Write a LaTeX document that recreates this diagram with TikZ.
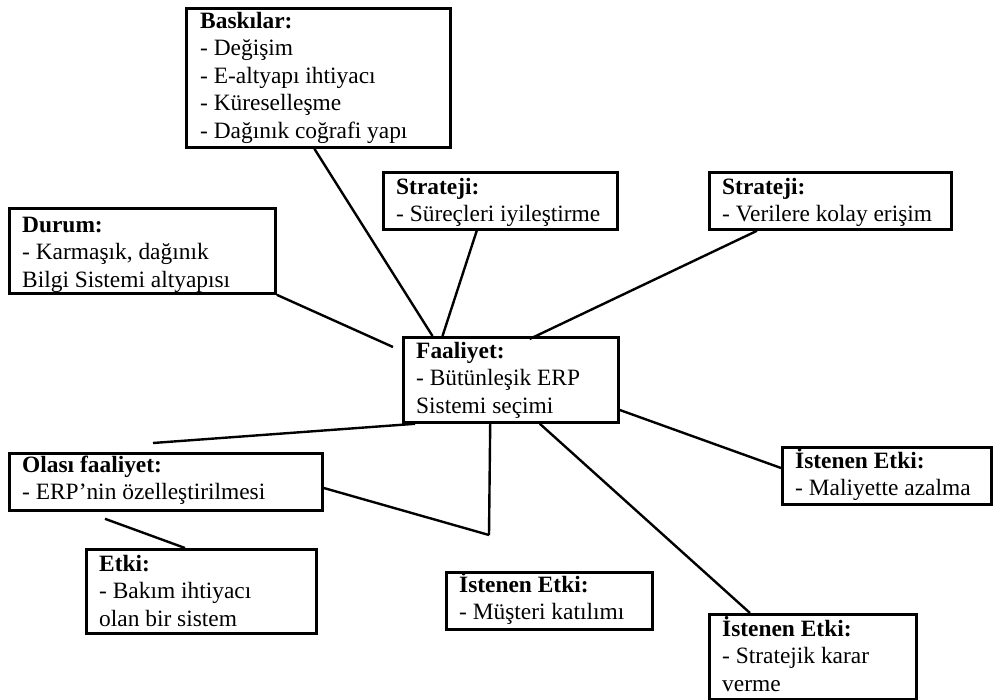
\documentclass[tikz,border=0pt]{standalone}
\usepackage{fontspec}
\setmainfont{Liberation Serif}
\usetikzlibrary{calc}

\tikzset{
  frame/.style={draw, line width=2.8pt, anchor=north west, inner sep=0pt},
  txt/.style={anchor=north west, inner sep=0pt, align=left,
    font=\fontsize{23.4pt}{27.5pt}\selectfont},
  link/.style={line width=2.4pt},
}
% first-line strut: distance from the box top to the first baseline
\newcommand{\firstline}[1]{\rule{0pt}{#1pt}}

\begin{document}
\begin{tikzpicture}[x=1pt,y=-1pt]
\useasboundingbox (0,0) rectangle (1002,700);

% frames
\node[frame, minimum width=264pt, minimum height=139pt] (bask)  at (185,7) {};
\node[frame, minimum width=234pt, minimum height=57pt]  (str1)  at (382,171) {};
\node[frame, minimum width=242pt, minimum height=57pt]  (str2)  at (708,171) {};
\node[frame, minimum width=266pt, minimum height=85pt]  (durum) at (8,207) {};
\node[frame, minimum width=215pt, minimum height=85pt]  (faal)  at (402,336) {};
\node[frame, minimum width=313pt, minimum height=57pt]  (olasi) at (8,452) {};
\node[frame, minimum width=209pt, minimum height=57pt]  (ist1)  at (781,446) {};
\node[frame, minimum width=230pt, minimum height=84pt]  (etki)  at (85,548) {};
\node[frame, minimum width=206pt, minimum height=57pt]  (ist2)  at (445,571) {};
\node[frame, minimum width=207pt, minimum height=85pt]  (ist3)  at (708,613) {};

% texts
\node[txt] (bask-t) at ($(bask.north west)+(15,0)$)
  {\firstline{21}\textbf{Baskılar:}\\- Değişim\\- E-altyapı ihtiyacı\\- Küreselleşme\\- Dağınık coğrafi yapı};
\node[txt] (str1-t) at ($(str1.north west)+(14,0)$)
  {\firstline{23}\textbf{Strateji:}\\- Süreçleri iyileştirme};
\node[txt] (str2-t) at ($(str2.north west)+(14,0)$)
  {\firstline{23}\textbf{Strateji:}\\- Verilere kolay erişim};
\node[txt] (durum-t) at ($(durum.north west)+(14,0)$)
  {\firstline{25}\textbf{Durum:}\\- Karmaşık, dağınık\\Bilgi Sistemi altyapısı};
\node[txt] (faal-t) at ($(faal.north west)+(14,0)$)
  {\firstline{22}\textbf{Faaliyet:}\\- Bütünleşik ERP\\Sistemi seçimi};
\node[txt] (olasi-t) at ($(olasi.north west)+(14,0)$)
  {\firstline{20}\textbf{Olası faaliyet:}\\- ERP’nin özelleştirilmesi};
\node[txt] (ist1-t) at ($(ist1.north west)+(14,0)$)
  {\firstline{22}\textbf{İstenen Etki:}\\- Maliyette azalma};
\node[txt] (etki-t) at ($(etki.north west)+(14,0)$)
  {\firstline{23}\textbf{Etki:}\\- Bakım ihtiyacı\\olan bir sistem};
\node[txt] (ist2-t) at ($(ist2.north west)+(14,0)$)
  {\firstline{21}\textbf{İstenen Etki:}\\- Müşteri katılımı};
\node[txt] (ist3-t) at ($(ist3.north west)+(14,0)$)
  {\firstline{23}\textbf{İstenen Etki:}\\- Stratejik karar\\verme};

% meeting point of the two lines above the customer-participation box
\coordinate (meet) at ($(ist2.north west)+(44,-36)$);

% connectors
\draw[link] ($(bask.south west)!0.485!(bask.south east)$) -- ($(faal.north west)!0.14!(faal.north east)$);
\draw[link] ($(str1.south west)!0.40!(str1.south east)$) -- ($(faal.north west)!0.186!(faal.north east)$);
\draw[link] ($(str2.south west)!0.2!(str2.south east)$) -- ($(faal.north west)!0.586!(faal.north east)+(0,3)$);
\draw[link] (durum.south east) -- ($(faal.north west)+(-9,11)$);
\draw[link] ($(faal.south west)!0.06!(faal.south east)$) -- ($(olasi.north west)+(145,-9)$);
\draw[link] ($(faal.south west)!0.405!(faal.south east)$) -- (meet);
\draw[link] ($(olasi.north east)+(0,36)$) -- (meet);
\draw[link] ($(olasi.south west)+(97,7)$) -- ($(etki.north west)+(100,0)$);
\draw[link] ($(faal.south west)!0.633!(faal.south east)$) -- ($(ist3.north west)!0.2!(ist3.north east)$);
\draw[link] ($(faal.north east)+(0,74)$) -- ($(ist1.north west)+(0,22)$);
\end{tikzpicture}
\end{document}
